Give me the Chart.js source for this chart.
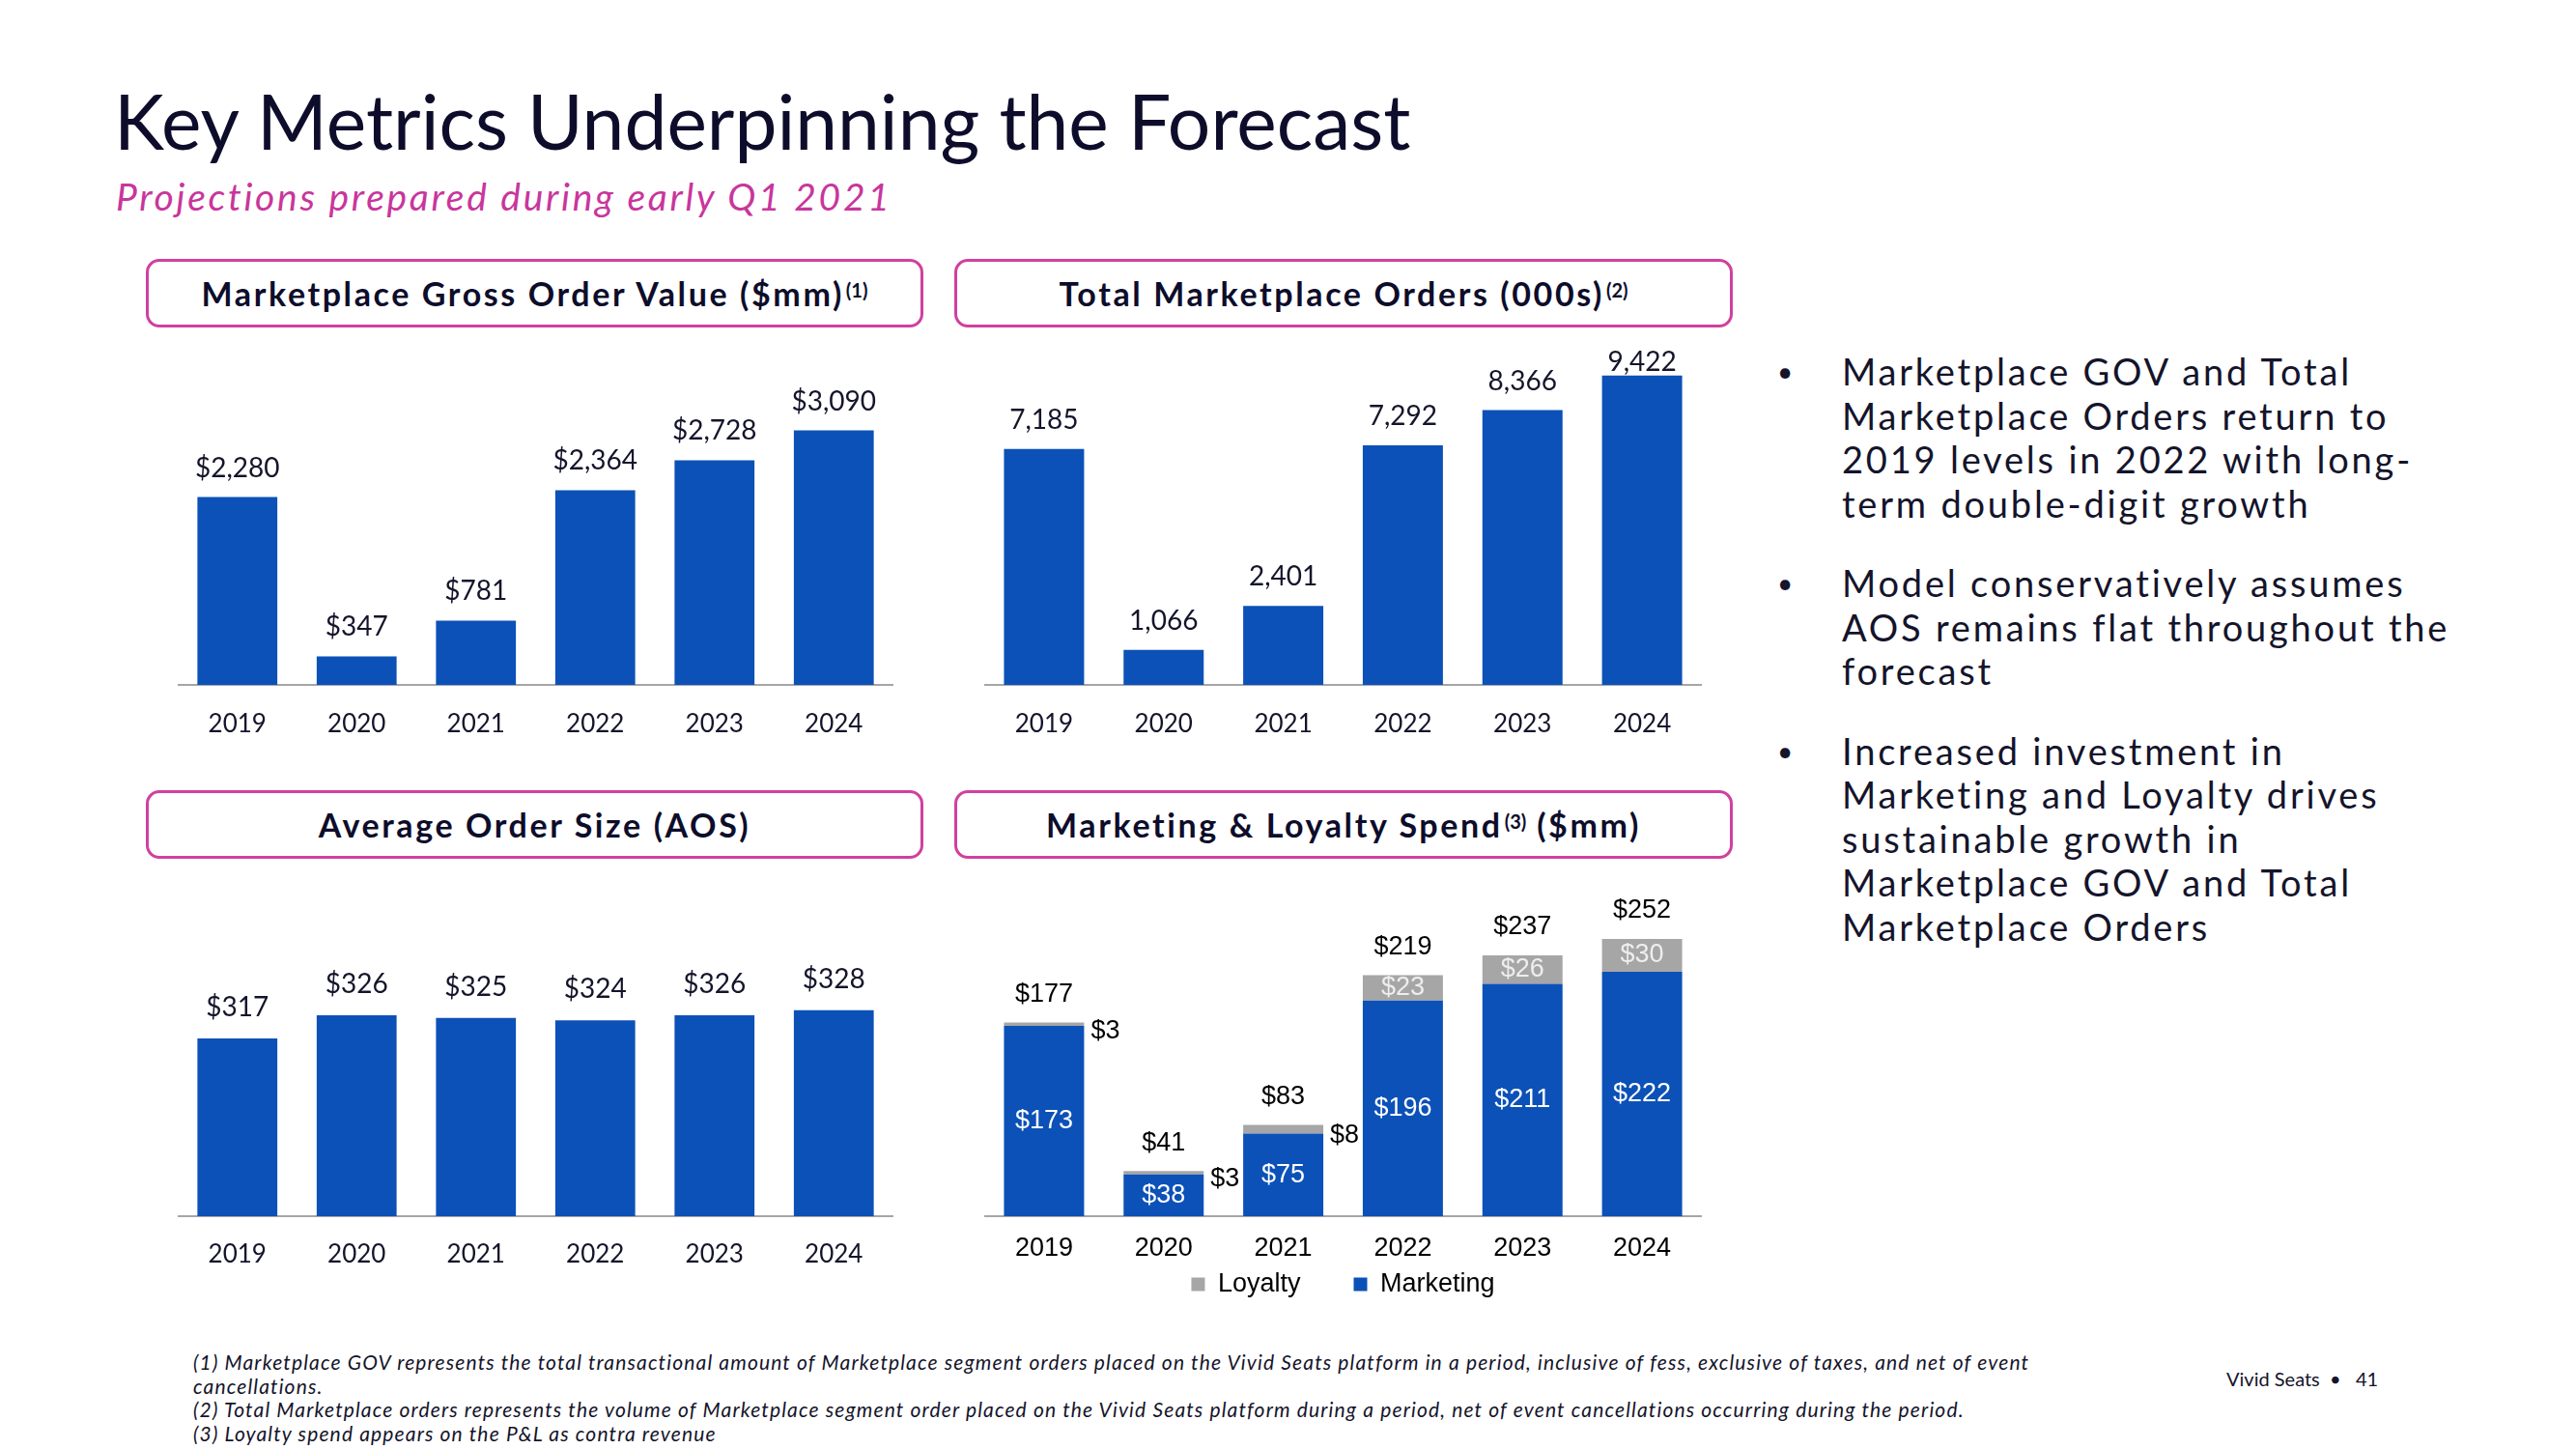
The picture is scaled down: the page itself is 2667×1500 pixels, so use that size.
<!DOCTYPE html>
<html>
<head>
<meta charset="utf-8">
<script src="https://cdn.jsdelivr.net/npm/chart.js@4.4.0/dist/chart.umd.min.js"></script>
<style>
  body { margin:0; width:2667px; height:1500px; background:#fff; position:relative; overflow:hidden;
         font-family: Lato, "Noto Sans", sans-serif; color:#14142b; }
  .abs { position:absolute; }
  .title { font-size:78.5px; line-height:80px; color:#0d0d2b; white-space:nowrap; }
  .sub { font-size:39px; line-height:38px; font-style:italic; letter-spacing:2.7px; color:#c8369c; white-space:nowrap; }
  .box { position:absolute; box-sizing:border-box; height:71px; border:3px solid #d0409e; border-radius:14px;
         display:flex; align-items:center; justify-content:center; font-weight:700; font-size:34px;
         letter-spacing:2.6px; color:#0d0d2b; }
  .box sup { font-size:20px; letter-spacing:0; position:relative; top:-4px; margin-left:2px; }
  .bullets { left:1840px; top:362px; width:820px; font-size:38px; line-height:45.5px; letter-spacing:2.8px; color:#14142b; }
  .bullets p { margin:0 0 37px 0; padding-left:67px; position:relative; white-space:nowrap; }
  .bullets p:before { content:"\2022"; position:absolute; left:0; top:0; font-size:28px; }
  .notes { left:200px; top:1398px; width:2000px; font-size:21px; line-height:24.5px; letter-spacing:1.15px;
           font-style:italic; color:#14142b; white-space:nowrap; }
  .foot { left:2305px; top:1415px; font-size:20px; line-height:24px; color:#14142b; white-space:nowrap; }
  canvas { position:absolute; }
</style>
</head>
<body>
<div class="abs title" style="left:118px;top:85px">Key Metrics Underpinning the Forecast</div>
<div class="abs sub" style="left:120px;top:184px">Projections prepared during early Q1 2021</div>

<div class="box" style="left:151px;top:268px;width:805px">Marketplace Gross Order Value ($mm)<sup>(1)</sup></div>
<div class="box" style="left:988px;top:268px;width:806px">Total Marketplace Orders (000s)<sup>(2)</sup></div>
<div class="box" style="left:151px;top:818px;width:805px">Average Order Size (AOS)</div>
<div class="box" style="left:988px;top:818px;width:806px">Marketing &amp; Loyalty Spend<sup>(3)</sup>&nbsp;($mm)</div>

<canvas id="govChart" width="741" height="384" style="left:184px;top:385px"></canvas>
<canvas id="ordersChart" width="743" height="411" style="left:1019px;top:358px"></canvas>
<canvas id="aosChart" width="741" height="412" style="left:184px;top:907px"></canvas>
<canvas id="spendChart" width="743" height="475" style="left:1019px;top:920px"></canvas>

<div class="abs bullets">
  <p>Marketplace GOV and Total<br>Marketplace Orders return to<br>2019 levels in 2022 with long-<br>term double-digit growth</p>
  <p>Model conservatively assumes<br>AOS remains flat throughout the<br>forecast</p>
  <p>Increased investment in<br>Marketing and Loyalty drives<br>sustainable growth in<br>Marketplace GOV and Total<br>Marketplace Orders</p>
</div>

<div class="abs notes">
(1) Marketplace GOV represents the total transactional amount of Marketplace segment orders placed on the Vivid Seats platform in a period, inclusive of fess, exclusive of taxes, and net of event<br>cancellations.<br>
(2) Total Marketplace orders represents the volume of Marketplace segment order placed on the Vivid Seats platform during a period, net of event cancellations occurring during the period.<br>
(3) Loyalty spend appears on the P&amp;L as contra revenue
</div>
<div class="abs foot">Vivid Seats &nbsp;•&nbsp;&nbsp; 41</div>

<script>
// data
const years = ['2019', '2020', '2021', '2022', '2023', '2024'];
const gov = [2280, 347, 781, 2364, 2728, 3090];
const orders = [7185, 1066, 2401, 7292, 8366, 9422];
const aos = [317, 326, 325, 324, 326, 328];
const marketing = [173, 38, 75, 196, 211, 222];
const loyalty = [3, 3, 8, 23, 26, 30];
const spendTotals = [177, 41, 83, 219, 237, 252];

const BLUE = '#0c51b7';
const GREY = '#a6a6a6';
const NAVY = '#14142b';

Chart.defaults.font.family = 'Lato, "Noto Sans", sans-serif';
Chart.defaults.animation = false;

// labels above single bars
function topLabels(cfg) {
  return {
    id: 'topLabels',
    afterDatasetsDraw(chart) {
      const ctx = chart.ctx;
      const vals = chart.data.datasets[0].data;
      ctx.save();
      ctx.font = cfg.font;
      ctx.fillStyle = cfg.color;
      ctx.textAlign = 'center';
      ctx.textBaseline = 'middle';
      chart.getDatasetMeta(0).data.forEach((bar, i) => {
        const y = Math.max(bar.y - cfg.offset, 17); // keep inside canvas
        ctx.fillText(cfg.prefix + vals[i].toLocaleString('en-US'), bar.x, y);
      });
      ctx.restore();
    }
  };
}

// labels for the stacked spend chart
const spendLabels = {
  id: 'spendLabels',
  afterDatasetsDraw(chart) {
    const ctx = chart.ctx;
    const mk = chart.getDatasetMeta(0).data;
    const ly = chart.getDatasetMeta(1).data;
    ctx.save();
    ctx.font = '27px "Liberation Sans", Arial, sans-serif';
    ctx.textBaseline = 'middle';
    mk.forEach((bar, i) => {
      ctx.textAlign = 'center';
      ctx.fillStyle = '#ffffff';
      ctx.fillText('$' + marketing[i], bar.x, (bar.y + bar.base) / 2);

      const seg = ly[i];
      const mid = (seg.y + seg.base) / 2;
      if (seg.base - seg.y > 20) {
        ctx.fillStyle = '#eeeeee';
        ctx.fillText('$' + loyalty[i], seg.x, mid);
      } else {
        ctx.textAlign = 'left';
        ctx.fillStyle = '#000000';
        ctx.fillText('$' + loyalty[i], seg.x + seg.width / 2 + 7, mid + 7);
      }

      ctx.textAlign = 'center';
      ctx.fillStyle = '#000000';
      ctx.fillText('$' + spendTotals[i], seg.x, seg.y - 29);
    });
    ctx.restore();
  }
};

// pull the legend up closer to the year labels, keeping wide item spacing
const legendLift = {
  id: 'legendLift',
  afterLayout(chart) {
    if (!chart.legend) return;
    chart.legend.top -= 42;
    chart.legend.bottom -= 42;
  }
};

function xAxis(pad, font, color, height) {
  return {
    grid: { display: false, drawTicks: false },
    border: { display: true, color: GREY, width: 2 },
    ticks: { padding: pad, font: font, color: color },
    afterFit: (scale) => { scale.height = height; }
  };
}

function barChart(id, values, yMin, yMax, padTop, tickPad, labelCfg) {
  return new Chart(document.getElementById(id), {
    type: 'bar',
    data: {
      labels: years,
      datasets: [{ data: values, backgroundColor: BLUE, categoryPercentage: 1, barPercentage: 0.67 }]
    },
    options: {
      responsive: false,
      devicePixelRatio: 1,
      layout: { padding: { top: padTop, left: 0, right: 0, bottom: 0 } },
      scales: {
        x: xAxis(tickPad, { size: 26 }, NAVY, 60),
        y: { display: false, min: yMin, max: yMax }
      },
      plugins: { legend: { display: false }, tooltip: { enabled: false } }
    },
    plugins: [topLabels(labelCfg)]
  });
}

const labelFont = '28px Lato, "Noto Sans", sans-serif';
barChart('govChart', gov, 0, 3800, 0, 25, { font: labelFont, color: NAVY, prefix: '$', offset: 30 });
barChart('ordersChart', orders, 0, 10000, 11, 25, { font: labelFont, color: NAVY, prefix: '', offset: 30 });
barChart('aosChart', aos, 248, 380, 0, 24, { font: labelFont, color: NAVY, prefix: '$', offset: 32 });

new Chart(document.getElementById('spendChart'), {
  type: 'bar',
  data: {
    labels: years,
    datasets: [
      { label: 'Marketing', data: marketing, backgroundColor: BLUE, categoryPercentage: 1, barPercentage: 0.67 },
      { label: 'Loyalty', data: loyalty, backgroundColor: GREY, categoryPercentage: 1, barPercentage: 0.67 }
    ]
  },
  options: {
    responsive: false,
    devicePixelRatio: 1,
    layout: { padding: { top: 20, left: 0, right: 0, bottom: 0 } },
    scales: {
      x: Object.assign(xAxis(17, { family: '"Liberation Sans", Arial, sans-serif', size: 27 }, '#000000', 44), { stacked: true }),
      y: { display: false, stacked: true, min: 0, max: 280 }
    },
    plugins: {
      legend: {
        display: true,
        position: 'bottom',
        reverse: true,
        labels: {
          boxWidth: 14, boxHeight: 14, padding: 55, color: '#000000',
          font: { family: '"Liberation Sans", Arial, sans-serif', size: 27 }
        }
      },
      tooltip: { enabled: false }
    }
  },
  plugins: [spendLabels, legendLift]
});
</script>
</body>
</html>
